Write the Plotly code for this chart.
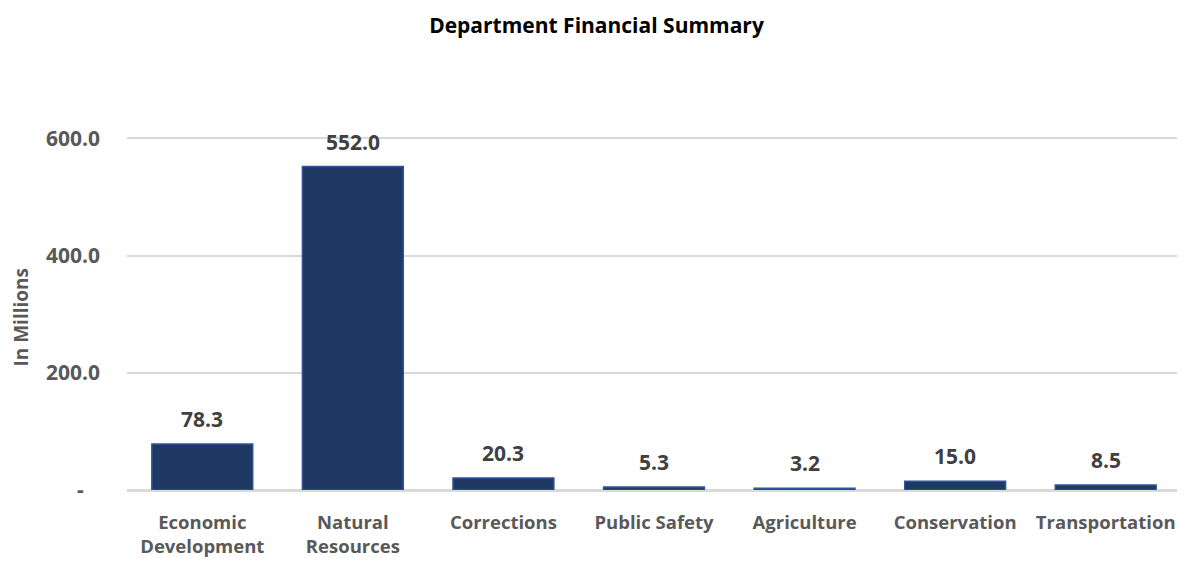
import plotly.graph_objects as go

categories = ["Economic<br>Development", "Natural<br>Resources", "Corrections",
              "Public Safety", "Agriculture", "Conservation", "Transportation"]
values = [78.3, 552.0, 20.3, 5.3, 3.2, 15.0, 8.5]
tick_vals = [0, 200, 400, 600]
tick_text = ["-\u00a0\u00a0\u00a0", "200.0", "400.0", "600.0"]

FONT = "'Open Sans', Lato, sans-serif"

fig = go.Figure()
fig.add_trace(go.Bar(
    x=categories, y=values,
    marker=dict(color="#203864", line=dict(color="#2F5597", width=1.5)),
    hoverinfo="x+y",
))

for c, v in zip(categories, values):
    fig.add_annotation(x=c, y=v, text=f"<b>{v:.1f}</b>", showarrow=False,
                       yshift=25, font=dict(family=FONT, size=21, color="#404040"))

fig.add_annotation(text="<b>In Millions</b>", xref="paper", yref="paper",
                   x=-0.1015, y=0.46, xanchor="center", yanchor="middle",
                   textangle=-90, showarrow=False, borderpad=0,
                   font=dict(family=FONT, size=19, color="#595959"))

fig.update_layout(
    width=1177, height=555,
    paper_bgcolor="white", plot_bgcolor="white",
    margin=dict(l=119, r=4, t=107, b=73),
    bargap=0.33,
    showlegend=False,
    title=dict(text="<b>Department Financial Summary</b>", x=0.5, xanchor="center",
               y=0.969, yanchor="middle",
               font=dict(family=FONT, size=21, color="#000000")),
    font=dict(family=FONT),
)
fig.update_xaxes(
    tickvals=categories, ticktext=[f"<b>{c}</b>" for c in categories],
    tickfont=dict(family=FONT, size=18.5, color="#595959"),
    showgrid=False, showline=False, ticks="",
    ticklabelstandoff=19,
)
fig.update_yaxes(
    range=[0, 640], tickvals=tick_vals, ticktext=[f"<b>{t}</b>" for t in tick_text],
    tickfont=dict(family=FONT, size=21, color="#595959"),
    showgrid=True, gridcolor="#D9D9D9", gridwidth=1.5,
    zeroline=True, zerolinecolor="#D9D9D9", zerolinewidth=2.5,
    ticklabelstandoff=26,
)
fig.write_html("out.html")
